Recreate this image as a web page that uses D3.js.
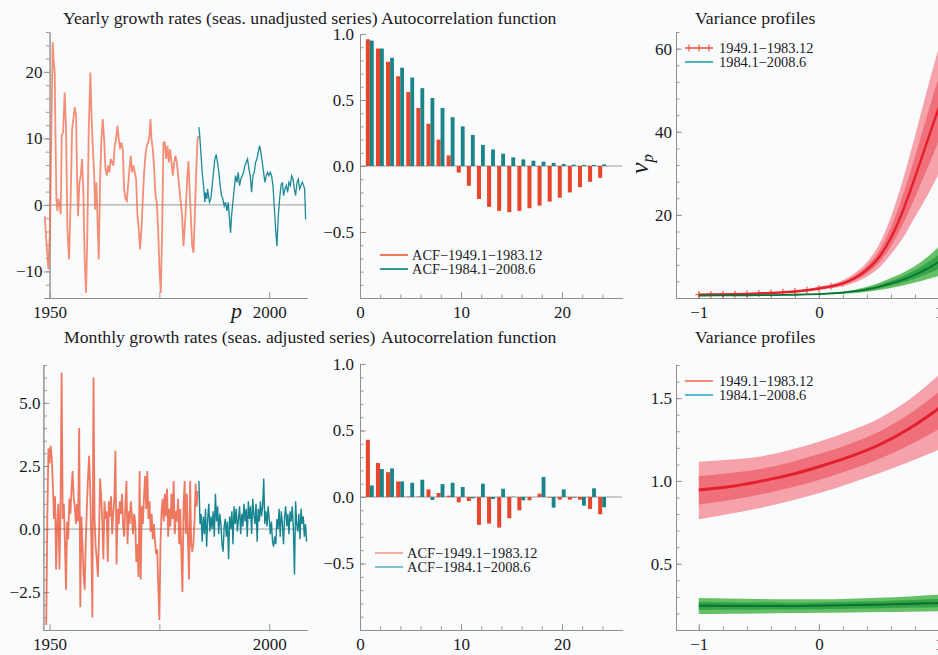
<!DOCTYPE html>
<html>
<head>
<meta charset="utf-8">
<script src="https://cdn.jsdelivr.net/npm/d3@7"></script>
<style>
  body { margin: 0; background: #fafbfd; }
  svg { display: block; }
</style>
</head>
<body>
<svg width="938" height="655"></svg>
<script>
// Growth rates, autocorrelations and variance profiles, two sub-periods

// ---- data ----
var titles = ["Yearly growth rates (seas. unadjusted series)", "Autocorrelation function", "Variance profiles",
              "Monthly growth rates (seas. adjusted series)", "Autocorrelation function", "Variance profiles"];
var periods = ["1949.1\u22121983.12", "1984.1\u22122008.6"];
var acfNames = ["ACF\u22121949.1\u22121983.12", "ACF\u22121984.1\u22122008.6"];

// yearly growth rates [year, %]
var yearlyEarly = [[1948.9,-1.7],[1949.35,-6.2],[1949.73,-9.7],[1950.11,-3.7],[1950.42,11.4],[1950.72,24.5],[1950.95,21.5],
  [1951.18,19.9],[1951.33,11.4],[1951.56,0.9],[1951.78,-0.9],[1952.01,0.9],[1952.32,-0.2],[1952.54,-1.4],[1952.77,10.4],
  [1953.08,10.9],[1953.45,16.9],[1953.76,11.4],[1954.06,-3.7],[1954.44,-8.2],[1954.82,1.4],[1955.13,11.4],[1955.43,12.9],
  [1955.73,14.7],[1956.04,13.4],[1956.26,4.4],[1956.49,-1.7],[1956.8,3.4],[1957.1,4.4],[1957.4,6.9],[1957.71,1.4],
  [1958.01,-8.7],[1958.31,-13.2],[1958.62,-3.7],[1958.92,11.4],[1959.3,19.9],[1959.53,13.9],[1959.83,8.9],[1960.14,4.9],
  [1960.36,-0.7],[1960.67,3.4],[1960.97,-3.7],[1961.2,-8.2],[1961.5,3.9],[1961.81,9.9],[1962.11,12.9],[1962.42,9.9],
  [1962.72,5.4],[1963.03,4.4],[1963.33,5.9],[1963.63,4.9],[1963.93,6.9],[1964.24,6.4],[1964.54,5.9],[1964.84,8.9],
  [1965.15,9.9],[1965.45,11.9],[1965.76,9.9],[1966.06,8.4],[1966.36,9.4],[1966.67,8.4],[1966.97,2.4],[1967.28,0.9],
  [1967.58,0.6],[1967.88,2.9],[1968.19,5.4],[1968.49,7.4],[1968.79,4.9],[1969.1,5.9],[1969.4,4.9],[1969.7,3.9],
  [1970.01,-1.7],[1970.31,-3.7],[1970.61,-6.7],[1970.92,-3.7],[1971.22,0.9],[1971.53,4.9],[1971.83,7.4],[1972.13,8.9],
  [1972.44,9.4],[1972.74,10.4],[1972.97,12.9],[1973.2,9.9],[1973.5,8.4],[1973.81,5.4],[1974.11,1.4],[1974.41,0.4],
  [1974.72,-3.7],[1975.02,-9.7],[1975.32,-13.2],[1975.63,-3.7],[1975.93,9.4],[1976.24,9.4],[1976.54,6.9],[1976.84,8.9],
  [1977.15,6.4],[1977.45,8.4],[1977.75,6.4],[1978.06,4.4],[1978.36,6.4],[1978.66,7.4],[1978.97,6.4],[1979.27,4.4],
  [1979.57,2.4],[1980.18,-1.7],[1980.48,-6.2],[1980.94,-1.7],[1981.32,3.9],[1981.62,6.6],[1981.85,2.9],[1982.16,-1.7],
  [1982.46,-6.2],[1982.77,-7.2],[1983.07,-1.7],[1983.37,4.9],[1983.68,9.9],[1983.98,10.4]];
var yearlyLate = [[1983.98,11.7],[1984.13,10.9],[1984.44,7.9],[1984.74,4.9],[1985.05,2.9],[1985.35,0.4],[1985.5,1.9],
  [1985.8,0.9],[1985.96,2.4],[1986.18,1.4],[1986.41,0.4],[1986.71,0.9],[1987.02,2.9],[1987.32,4.9],[1987.63,6.9],
  [1987.93,7.6],[1988.23,6.4],[1988.54,4.9],[1988.84,2.9],[1989.15,1.4],[1989.45,0.9],[1989.75,-0.2],[1990.06,0.4],
  [1990.36,-0.9],[1990.67,0.4],[1990.97,-2.2],[1991.2,-4.2],[1991.42,-1.7],[1991.73,0.4],[1992.03,2.4],[1992.34,4.4],
  [1992.64,3.4],[1992.94,4.9],[1993.25,2.9],[1993.55,3.9],[1993.86,4.4],[1994.16,4.9],[1994.46,5.9],[1994.77,6.4],
  [1995.07,6.9],[1995.38,5.4],[1995.68,4.4],[1995.98,1.9],[1996.29,4.4],[1996.59,4.9],[1996.9,6.4],[1997.2,6.9],
  [1997.5,7.9],[1997.81,8.9],[1998.11,7.9],[1998.42,6.4],[1998.72,4.9],[1999.02,3.4],[1999.33,4.4],[1999.63,4.9],
  [1999.94,4.4],[2000.24,4.9],[2000.54,4.4],[2000.85,2.9],[2001.15,-0.2],[2001.46,-3.7],[2001.76,-6.2],[2002.06,-1.7],
  [2002.37,0.9],[2002.67,2.9],[2002.98,3.4],[2003.28,1.4],[2003.58,2.4],[2003.89,2.9],[2004.19,1.9],[2004.49,3.4],
  [2004.8,2.9],[2005.1,4.4],[2005.41,3.9],[2005.71,2.4],[2006.01,1.4],[2006.32,3.4],[2006.62,3.9],[2006.93,2.4],
  [2007.23,2.9],[2007.53,3.4],[2007.84,2.9],[2008.06,2.4],[2008.29,-2.2]];

// monthly growth rates, read every quarter of a year
var monthlyEarlyStart = 1949.25, monthlyLateStart = 1984.0, readStep = 0.25;
var monthlyEarly = [-3.8,0.5,3.2,2.6,3.3,2.8,1.8,0.4,1.3,-1.6,
  0.2,1.0,-1.6,0.8,6.2,0.4,1.0,-0.6,-2.4,0.3,
  -0.4,1.2,0.6,1.6,2.3,1.2,0.9,0.2,1.0,0.3,
  4.0,-3.1,0.5,-0.6,-1.8,-2.4,-0.5,0.9,2.0,2.9,
  1.6,-0.4,-3.5,6.0,0.4,-0.7,-1.2,-1.9,-0.4,2.0,
  1.3,0.3,-1.2,1.1,0.4,0.7,-1.3,1.1,0.5,1.3,
  -0.2,0.6,1.2,3.1,-1.4,0.8,0.2,1.1,0.6,1.4,
  0.1,-0.3,0.9,1.9,-0.6,0.7,0.2,1.1,0.5,-0.2,
  0.6,0.3,-1.3,-0.6,-1.9,2.3,-2.0,0.9,0.2,1.3,
  2.1,0.8,2.3,0.4,1.1,-0.1,0.6,-0.4,0.2,-0.5,
  -1.0,-0.8,-2.3,-3.6,-0.6,0.7,1.2,0.3,1.4,0.5,
  1.6,-0.3,0.8,0.1,1.4,0.4,1.9,-0.2,0.7,0.3,
  1.2,-0.6,0.8,-1.0,-2.5,0.9,1.9,-0.2,1.4,-0.4,
  -2.0,1.9,-0.6,-0.9,-0.5,0.3,1.8,0.9,1.5];
var monthlyLate = [1.9,0.2,0.6,-0.5,0.5,-0.2,0.8,-0.7,0.4,1.0,
  -0.1,0.5,0.0,0.7,-0.3,1.4,0.3,0.9,-0.2,0.6,
  0.2,-0.6,-0.9,0.1,0.4,-0.3,0.3,-1.2,0.5,0.0,
  0.7,-0.6,0.9,0.2,0.8,-0.1,0.4,0.9,-0.2,0.6,
  0.1,1.0,0.3,0.8,-0.3,1.1,0.4,0.9,-0.2,1.2,
  0.6,0.2,1.0,-0.5,0.8,0.3,1.1,0.5,0.9,2.0,
  0.2,0.7,0.1,0.9,0.4,-0.2,0.3,-0.5,-0.7,-0.3,
  -0.6,0.4,0.0,0.8,-0.3,0.7,0.2,-0.6,0.5,0.9,
  0.1,0.6,-0.2,0.7,0.3,0.9,0.0,-1.8,1.1,0.2,
  -0.1,0.6,-0.4,0.8,0.2,0.5,-0.3,0.2,-0.5];

// autocorrelations, lags 1..24
var lags = [1,2,3,4,5,6,7,8,9,10,11,12,13,14,15,16,17,18,19,20,21,22,23,24];
var acfYearlyEarly = [0.96,0.89,0.79,0.68,0.56,0.44,0.32,0.20,0.08,-0.05,-0.15,-0.25,-0.31,-0.34,-0.35,-0.34,-0.32,-0.30,-0.27,-0.24,-0.20,-0.16,-0.12,-0.09];
var acfYearlyLate = [0.95,0.89,0.82,0.745,0.67,0.59,0.515,0.44,0.37,0.30,0.235,0.16,0.125,0.093,0.066,0.05,0.04,0.033,0.023,0.015,0.01,0.008,0.008,0.012];
var acfMonthlyEarly = [0.43,0.256,0.187,0.117,0.003,0.003,0.057,0.03,0.01,-0.04,-0.03,-0.21,-0.20,-0.23,-0.16,-0.10,-0.025,0.025,-0.005,-0.02,-0.02,-0.02,-0.09,-0.13];
var acfMonthlyLate = [0.087,0.21,0.215,0.117,0.107,0.13,-0.022,0.097,0.107,0.075,-0.01,0.10,-0.015,0.062,0.002,-0.025,0.0,0.15,-0.08,0.057,-0.005,-0.065,0.065,-0.077];

// variance profiles (top: yearly, 21 values of p; bottom: monthly, 9 values of p)
var pTop = [-1,-0.9,-0.8,-0.7,-0.6,-0.5,-0.4,-0.3,-0.2,-0.1,0,0.1,0.2,0.3,0.4,0.5,0.6,0.7,0.8,0.9,1];
var vTopRedMid = [0.8,0.83,0.87,0.92,0.99,1.08,1.2,1.36,1.56,1.85,2.3,2.8,3.5,4.8,6.8,9.8,14.5,21,29,37.5,46];
var vTopRedHi  = [0.9,0.93,0.97,1.03,1.11,1.21,1.35,1.53,1.76,2.1,2.7,3.3,4.3,6.0,8.6,12.8,19.5,28.5,39,50,60.5];
var vTopRedLo  = [0.72,0.74,0.77,0.81,0.87,0.94,1.04,1.18,1.35,1.6,1.95,2.3,2.8,3.7,5.1,7.2,10.5,14.5,19.5,24.5,30];
var vTopRedHi2 = [0.85,0.88,0.92,0.97,1.05,1.15,1.28,1.45,1.66,1.98,2.5,3.05,3.9,5.4,7.7,11.3,17,24.8,34,43.8,53.2];
var vTopRedLo2 = [0.76,0.79,0.82,0.86,0.93,1.0,1.12,1.27,1.45,1.73,2.12,2.55,3.15,4.25,5.95,8.5,12.5,17.8,24.2,31,38];
var vTopGrnMid = [0.6,0.61,0.62,0.63,0.65,0.67,0.7,0.73,0.78,0.85,0.95,1.1,1.3,1.65,2.1,2.7,3.5,4.4,5.6,7.0,8.7];
var vTopGrnHi  = [0.66,0.67,0.68,0.7,0.72,0.74,0.78,0.82,0.88,0.96,1.1,1.28,1.55,2.0,2.7,3.6,4.8,6.1,7.7,9.8,12.4];
var vTopGrnLo  = [0.54,0.55,0.56,0.57,0.58,0.6,0.62,0.64,0.68,0.73,0.8,0.9,1.0,1.2,1.5,1.9,2.4,3.0,3.7,4.5,5.3];
var vTopGrnHi2 = [0.63,0.64,0.65,0.66,0.68,0.7,0.74,0.77,0.83,0.9,1.02,1.19,1.43,1.83,2.4,3.15,4.15,5.25,6.65,8.4,10.55];
var vTopGrnLo2 = [0.57,0.58,0.59,0.6,0.62,0.64,0.66,0.69,0.73,0.79,0.88,1.0,1.15,1.43,1.8,2.3,2.95,3.7,4.65,5.75,7.0];

var pBot = [-1,-0.75,-0.5,-0.25,0,0.25,0.5,0.75,1];
var vBotRedMid = [0.946,0.965,0.996,1.035,1.086,1.145,1.217,1.315,1.438];
var vBotRedHi  = [1.116,1.128,1.146,1.185,1.237,1.300,1.377,1.490,1.640];
var vBotRedLo  = [0.769,0.800,0.835,0.878,0.926,0.983,1.046,1.115,1.187];
var vBotRedHi2 = [1.03,1.047,1.071,1.11,1.162,1.222,1.297,1.402,1.539];
var vBotRedLo2 = [0.858,0.883,0.916,0.957,1.006,1.064,1.132,1.215,1.313];
var vBotGrnMid = [0.247,0.246,0.245,0.245,0.247,0.250,0.253,0.258,0.263];
var vBotGrnHi  = [0.293,0.290,0.287,0.285,0.285,0.289,0.295,0.303,0.313];
var vBotGrnLo  = [0.196,0.198,0.200,0.202,0.204,0.206,0.208,0.210,0.213];
var vBotGrnHi2 = [0.270,0.268,0.266,0.265,0.266,0.270,0.274,0.281,0.288];
var vBotGrnLo2 = [0.222,0.222,0.223,0.224,0.226,0.228,0.231,0.234,0.238];

// tick labels
var yearTicks = [1950, 2000], yearMinor = [1975];
var yearlyTicks = [-10, 0, 10, 20];
var monthlyTicks = [-2.5, 0, 2.5, 5];
var acfTicks = [-0.5, 0, 0.5, 1], lagTicks = [0, 10, 20];
var vTopTicks = [20, 40, 60], vBotTicks = [0.5, 1, 1.5], pTicks = [-1, 0, 1];

// ---- setup ----
var svg = d3.select("svg"),
    font = '"Liberation Serif", "Times New Roman", serif',
    red = "#f0603e", teal = "#1e8a98";

svg.append("rect").attr("width", 938).attr("height", 655).attr("fill", "#fafbfd");

// scales for each panel
var xYear = d3.scaleLinear().domain([1948.6, 2008.6]).range([43.4, 307]),
    yYearly = d3.scaleLinear().domain([-14, 26]).range([298, 32]),
    yMonthly = d3.scaleLinear().domain([-4, 6.5]).range([630, 365]),
    xLag = d3.scaleLinear().domain([0, 26]).range([360, 622.6]),
    yAcfTop = d3.scaleLinear().domain([-1, 1]).range([298, 34]),
    yAcfBot = d3.scaleLinear().domain([-1, 1]).range([630, 364]),
    xP = d3.scaleLinear().domain([-1.19, 1]).range([676, 939]),
    yVTop = d3.scaleLinear().domain([0, 64]).range([298, 32]),
    yVBot = d3.scaleLinear().domain([0.1, 1.7]).range([630, 365]);

// draws an axis with minor and major ticks (negative size = ticks inside)
function axis(gen, scale, tr, major, minor, fmt, size, pad) {
  var a = svg.append("g").attr("transform", tr).style("color", "#8e8e8e");
  a.call(gen(scale).tickValues(minor).tickSizeInner(size * 0.6).tickSizeOuter(0).tickFormat(""));
  a.append("g").call(gen(scale).tickValues(major).tickSizeInner(size).tickSizeOuter(0).tickPadding(pad).tickFormat(fmt));
  a.selectAll("text").attr("font-family", font).attr("font-size", 17).attr("fill", "#1a1a1a");
  a.selectAll("path, line").attr("stroke-width", 0.9);
  return a;
}

function zeroLine(x0, x1, y) {
  svg.append("line").attr("x1", x0).attr("x2", x1).attr("y1", y).attr("y2", y)
    .attr("stroke", "#8e8e8e").attr("stroke-width", 0.9);
}

var yearFmt = d3.format("d"), f1 = d3.format(".1f");
var showYear = function(d) { return yearTicks.indexOf(d) >= 0 ? yearFmt(d) : ""; };

// ---- yearly growth (top left) ----
axis(d3.axisLeft, yYearly, "translate(" + xYear(1950) + ",0)", yearlyTicks, d3.range(-14, 27, 2), yearFmt, 6, 1);
axis(d3.axisBottom, xYear, "translate(0,298)", yearTicks.concat(yearMinor), [], showYear, -6, 8);
zeroLine(xYear(1950), 307, yYearly(0));

var yearLine = d3.line().x(function(d) { return xYear(d[0]); }).y(function(d) { return yYearly(d[1]); });
svg.append("path").datum(yearlyEarly).attr("d", yearLine)
  .attr("fill", "none").attr("stroke", "#f26a48").attr("stroke-opacity", 0.75).attr("stroke-width", 1.8);
svg.append("path").datum(yearlyLate).attr("d", yearLine)
  .attr("fill", "none").attr("stroke", teal).attr("stroke-width", 1.3);

// ---- monthly growth (bottom left) ----
axis(d3.axisLeft, yMonthly, "translate(" + xYear(1948.6) + ",0)", monthlyTicks, d3.range(-4, 6.6, 0.5), f1, -6, 3);
axis(d3.axisBottom, xYear, "translate(0,630)", yearTicks.concat(yearMinor), [], showYear, -6, 8);
zeroLine(xYear(1948.6), 307, yMonthly(0));

function monthLine(start) {
  return d3.line().x(function(d, i) { return xYear(start + i * readStep); }).y(function(d) { return yMonthly(d); });
}
svg.append("path").datum(monthlyEarly).attr("d", monthLine(monthlyEarlyStart))
  .attr("fill", "none").attr("stroke", "#ea4622").attr("stroke-opacity", 0.72).attr("stroke-width", 1.8);
svg.append("path").datum(monthlyLate).attr("d", monthLine(monthlyLateStart))
  .attr("fill", "none").attr("stroke", "#178590").attr("stroke-width", 1.4);

// ---- autocorrelation panels ----
function acfPanel(y, early, late, base, legendY, legendX, legendCols) {
  axis(d3.axisLeft, y, "translate(360,0)", acfTicks, d3.range(-1, 1.01, 0.1), f1, -6, 6);
  axis(d3.axisBottom, xLag, "translate(0," + base + ")", lagTicks, d3.range(2, 26, 2), d3.format("d"), -6, 8);
  zeroLine(360, 622, y(0));

  svg.append("g").selectAll("rect").data(lags).enter().append("rect")
    .attr("x", function(d) { return xLag(d - 0.42); })
    .attr("width", xLag(0.4) - xLag(0))
    .attr("y", function(d, i) { return y(Math.max(0, early[i])); })
    .attr("height", function(d, i) { return Math.abs(y(early[i]) - y(0)); })
    .attr("fill", "#e5462c");
  svg.append("g").selectAll("rect").data(lags).enter().append("rect")
    .attr("x", function(d) { return xLag(d - 0.02); })
    .attr("width", xLag(0.38) - xLag(0))
    .attr("y", function(d, i) { return y(Math.max(0, late[i])); })
    .attr("height", function(d, i) { return Math.abs(y(late[i]) - y(0)); })
    .attr("fill", "#1b8488");

  // legend
  acfNames.forEach(function(name, i) {
    svg.append("line").attr("x1", legendX).attr("x2", legendX + 28)
      .attr("y1", legendY + i * 14).attr("y2", legendY + i * 14)
      .attr("stroke", legendCols[i]).attr("stroke-width", 1.8);
    svg.append("text").attr("x", legendX + 32).attr("y", legendY + i * 14 + 5)
      .attr("font-family", font).attr("font-size", 14.4).attr("fill", "#1a1a1a").text(name);
  });
}
acfPanel(yAcfTop, acfYearlyEarly, acfYearlyLate, 298, 255, 380, ["#f06a4a", "#1e8c84"]);
acfPanel(yAcfBot, acfMonthlyEarly, acfMonthlyLate, 630, 553, 375, ["#f7a48c", "#6fbdc8"]);

// ---- variance profiles ----
function bandPath(y, lo, hi, ps, col) {
  svg.append("path")
    .datum(ps.map(function(p, i) { return [p, lo[i], hi[i]]; }))
    .attr("fill", col)
    .attr("d", d3.area().curve(d3.curveMonotoneX)
      .x(function(d) { return xP(d[0]); })
      .y0(function(d) { return y(d[1]); })
      .y1(function(d) { return y(d[2]); }));
}
function midPath(y, mid, ps, col, w) {
  svg.append("path")
    .datum(ps.map(function(p, i) { return [p, mid[i]]; }))
    .attr("fill", "none").attr("stroke", col).attr("stroke-width", w)
    .attr("d", d3.line().curve(d3.curveMonotoneX)
      .x(function(d) { return xP(d[0]); })
      .y(function(d) { return y(d[1]); }));
}

axis(d3.axisLeft, yVTop, "translate(676,0)", vTopTicks, d3.range(4, 65, 4), d3.format("d"), -6, 4);
axis(d3.axisBottom, xP, "translate(0,298)", pTicks, d3.range(-1, 1.01, 0.2), d3.format("d"), -6, 8);

// red line with "+" markers, then the bands over it
midPath(yVTop, vTopRedMid, pTop, red, 1.4);
svg.append("g").selectAll("path").data(pTop).enter().append("path")
  .attr("d", function(p, i) {
    var cx = xP(p), cy = yVTop(vTopRedMid[i]);
    return "M" + (cx - 3.5) + "," + cy + "H" + (cx + 3.5) + "M" + cx + "," + (cy - 3.5) + "V" + (cy + 3.5);
  })
  .attr("stroke", red).attr("stroke-width", 1.3);
bandPath(yVTop, vTopRedLo, vTopRedHi, pTop, "#f5a2aa");
bandPath(yVTop, vTopRedLo2, vTopRedHi2, pTop, "#ef6f7a");
midPath(yVTop, vTopRedMid, pTop, "#e4202c", 2.4);
bandPath(yVTop, vTopGrnLo, vTopGrnHi, pTop, "#66c066");
bandPath(yVTop, vTopGrnLo2, vTopGrnHi2, pTop, "#34a448");
midPath(yVTop, vTopGrnMid, pTop, "#0b7434", 1.8);

axis(d3.axisLeft, yVBot, "translate(676,0)", vBotTicks, d3.range(0.2, 1.71, 0.1), f1, -6, 4);
axis(d3.axisBottom, xP, "translate(0,630)", pTicks, d3.range(-1, 1.01, 0.2), d3.format("d"), -6, 8);

bandPath(yVBot, vBotRedLo, vBotRedHi, pBot, "#f5a2aa");
bandPath(yVBot, vBotRedLo2, vBotRedHi2, pBot, "#ef6f7a");
midPath(yVBot, vBotRedMid, pBot, "#e4202c", 3);
bandPath(yVBot, vBotGrnLo, vBotGrnHi, pBot, "#66c066");
bandPath(yVBot, vBotGrnLo2, vBotGrnHi2, pBot, "#34a448");
midPath(yVBot, vBotGrnMid, pBot, "#0b7434", 2.2);

// legends of the variance panels
function vLegend(y0, cols, marks) {
  periods.forEach(function(name, i) {
    var ly = y0 + i * 14;
    svg.append("line").attr("x1", 685).attr("x2", 713).attr("y1", ly).attr("y2", ly)
      .attr("stroke", cols[i]).attr("stroke-width", 1.6);
    if (marks && i == 0) {
      [689, 699, 709].forEach(function(mx) {
        svg.append("path").attr("d", "M" + mx + "," + (ly - 3.5) + "V" + (ly + 3.5))
          .attr("stroke", cols[i]).attr("stroke-width", 1.3);
      });
    }
    svg.append("text").attr("x", 719).attr("y", ly + 5)
      .attr("font-family", font).attr("font-size", 14.4).attr("fill", "#1a1a1a").text(name);
  });
}
vLegend(48, [red, "#2a9fb0"], true);
vLegend(381, ["#f2704f", "#35a6c4"], false);

// axis label of the variance profiles
var vl = svg.append("text").attr("transform", "translate(648,174) rotate(-90)")
  .attr("font-family", font).attr("font-style", "italic").attr("font-size", 26).attr("fill", "#1a1a1a");
vl.append("tspan").text("\u03bd");
vl.append("tspan").attr("font-size", 17).attr("dy", 5).text("p");

svg.append("text").attr("x", 231).attr("y", 318)
  .attr("font-family", font).attr("font-style", "italic").attr("font-size", 22).attr("fill", "#1a1a1a").text("p");

// panel titles
var titleX = [63, 381, 695, 64, 381, 695];
titles.forEach(function(t, i) {
  svg.append("text").attr("x", titleX[i]).attr("y", i < 3 ? 24 : 343)
    .attr("font-family", font).attr("font-size", 17.7).attr("fill", "#1a1a1a").text(t);
});
</script>
</body>
</html>
